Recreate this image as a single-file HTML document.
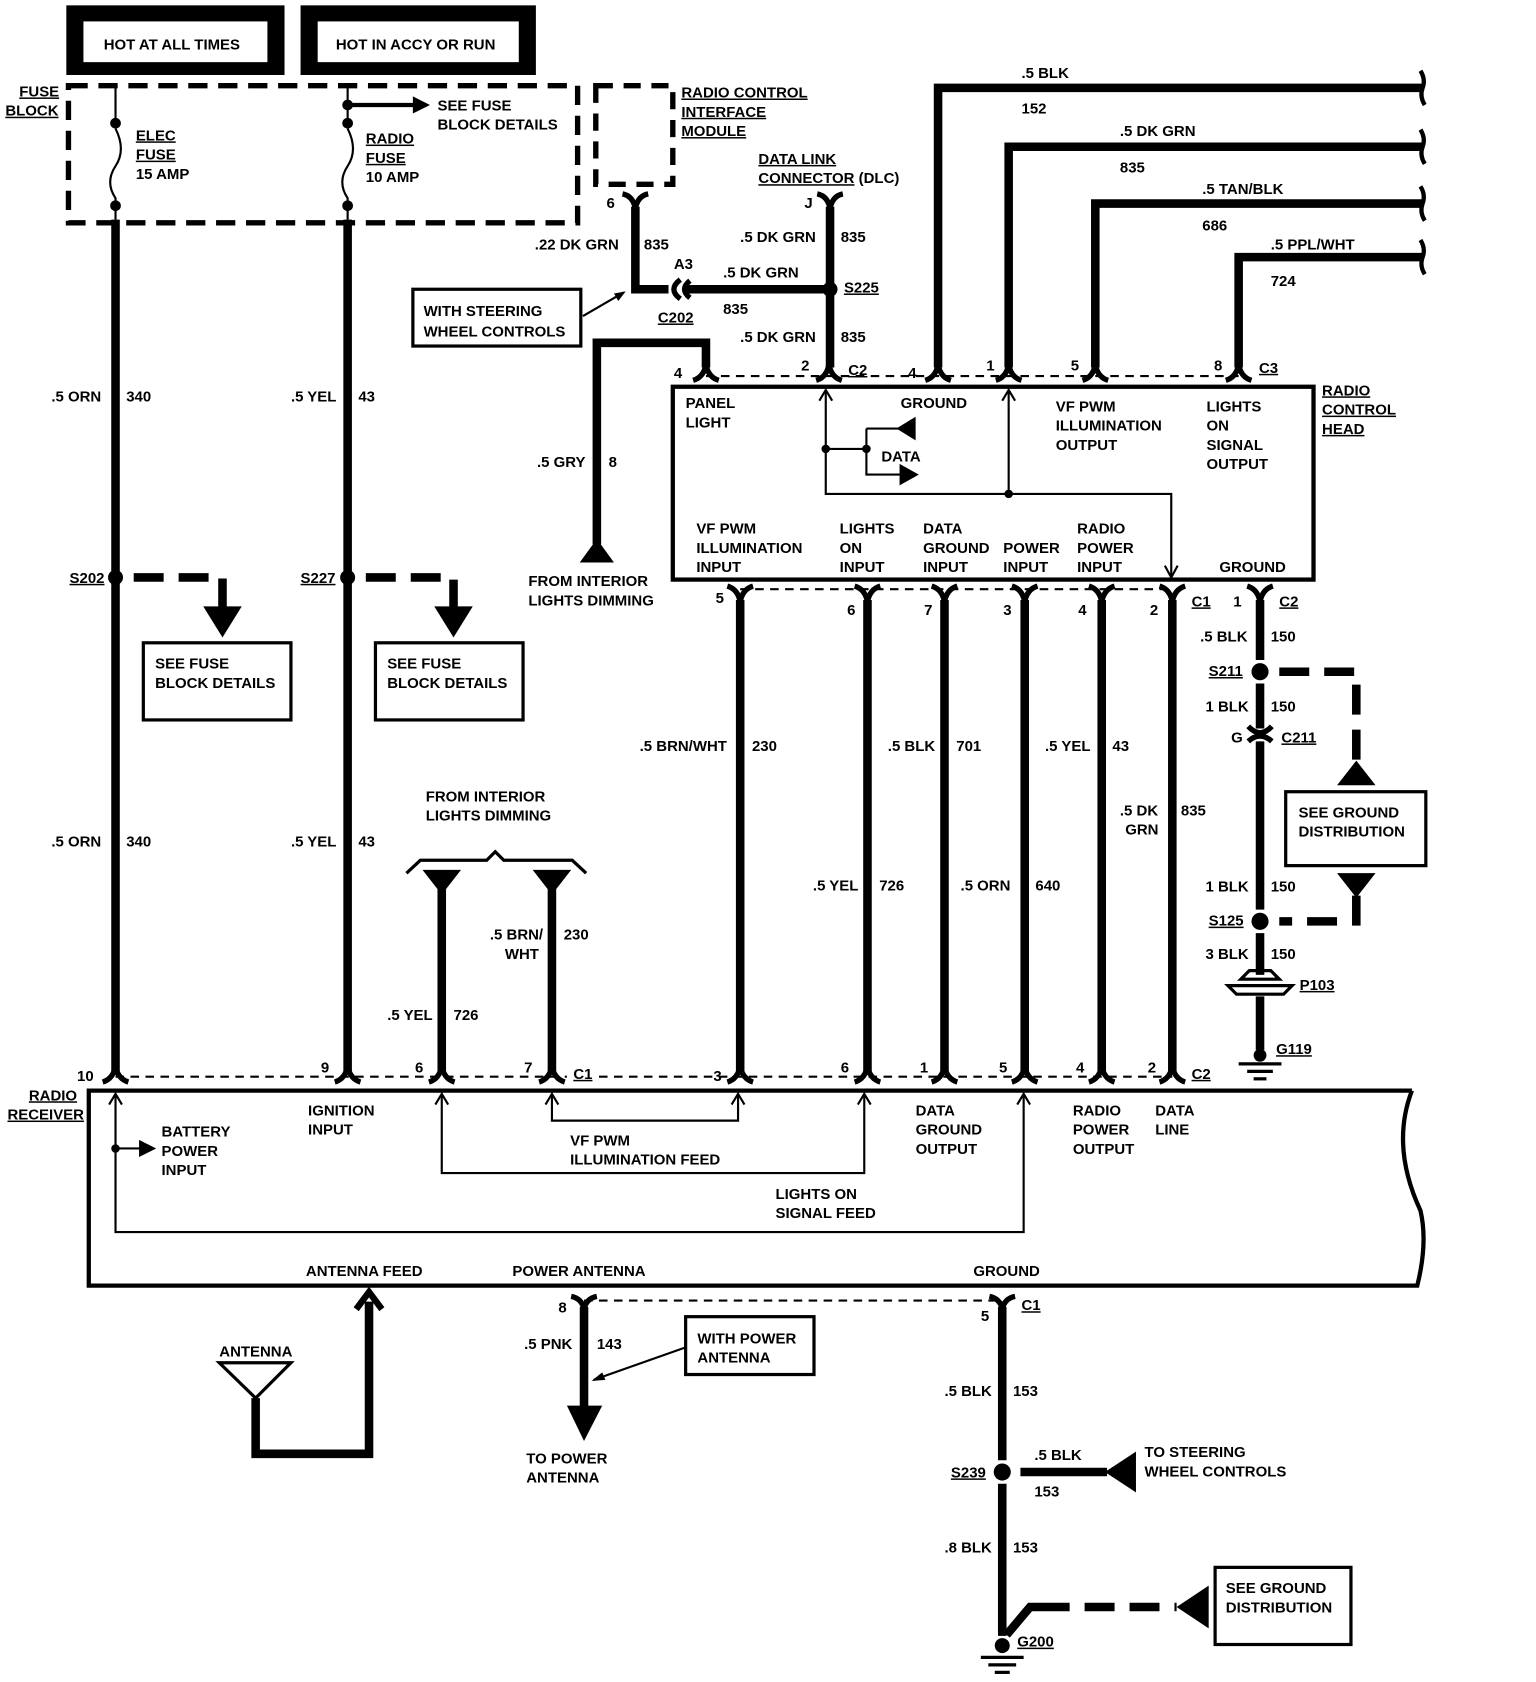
<!DOCTYPE html>
<html><head><meta charset="utf-8"><style>
html,body{margin:0;padding:0;background:#fff;}
svg{display:block;}
text{font-family:"Liberation Sans",sans-serif;font-weight:bold;font-size:14px;fill:#000;}
.w{stroke:#000;stroke-width:8;fill:none;}
.t{stroke:#000;stroke-width:2;fill:none;}
.m{stroke:#000;stroke-width:4;fill:none;}
.d{stroke:#000;stroke-width:2;fill:none;stroke-dasharray:8,6;}
.D{stroke:#000;stroke-width:8;fill:none;stroke-dasharray:28,14;}
.cu{stroke:#000;stroke-width:5;fill:none;}
.u{text-decoration:underline;}
</style></head><body>
<svg width="1536" height="1682" viewBox="0 0 1436 1570" preserveAspectRatio="none" xmlns="http://www.w3.org/2000/svg">
<rect x="62" y="5" width="204" height="65" fill="#000"/>
<rect x="78" y="20" width="172" height="38" fill="#fff"/>
<text x="97" y="46">HOT AT ALL TIMES</text>
<rect x="281" y="5" width="220" height="65" fill="#000"/>
<rect x="297" y="20" width="188" height="38" fill="#fff"/>
<text x="314" y="46">HOT IN ACCY OR RUN</text>
<rect x="64" y="80" width="476" height="128" class="D" style="stroke-width:5;stroke-dasharray:18,10"/>
<text x="18" y="90" class="u">FUSE</text><text x="5" y="108" class="u">BLOCK</text>
<line x1="108" y1="80" x2="108" y2="120" class="t"/>
<path d="M108 120 Q118 140 108 155 Q98 170 108 185 L108 205" class="t"/>
<circle cx="108" cy="115" r="5"/><circle cx="108" cy="192" r="5"/>
<text x="127" y="131" class="u">ELEC</text><text x="127" y="149" class="u">FUSE</text><text x="127" y="167">15 AMP</text>
<line x1="325" y1="80" x2="325" y2="120" class="t"/>
<path d="M325 120 Q335 140 325 155 Q315 170 325 185 L325 205" class="t"/>
<circle cx="325" cy="98" r="5"/><circle cx="325" cy="115" r="5"/><circle cx="325" cy="192" r="5"/>
<line x1="325" y1="98" x2="388" y2="98" class="m"/><path d="M386 90 L402 98 L386 106Z"/>
<text x="409" y="103">SEE FUSE</text><text x="409" y="121">BLOCK DETAILS</text>
<text x="342" y="134" class="u">RADIO</text><text x="342" y="152" class="u">FUSE</text><text x="342" y="170">10 AMP</text>
<line x1="108" y1="205" x2="108" y2="1000" class="w"/>
<line x1="325" y1="205" x2="325" y2="1000" class="w"/>
<text x="48" y="375">.5 ORN</text><text x="118" y="375">340</text>
<text x="272" y="375">.5 YEL</text><text x="335" y="375">43</text>
<text x="48" y="790">.5 ORN</text><text x="118" y="790">340</text>
<text x="272" y="790">.5 YEL</text><text x="335" y="790">43</text>
<circle cx="108" cy="539" r="7"/><text x="65" y="544" class="u">S202</text>
<path d="M125 539 L208 539 L208 568" class="D"/><path d="M190 566 L226 566 L208 595Z"/>
<rect x="134" y="600" width="138" height="72" class="m" style="stroke-width:3"/>
<text x="145" y="624">SEE FUSE</text><text x="145" y="642">BLOCK DETAILS</text>
<circle cx="325" cy="539" r="7"/><text x="281" y="544" class="u">S227</text>
<path d="M342 539 L424 539 L424 568" class="D"/><path d="M406 566 L442 566 L424 595Z"/>
<rect x="351" y="600" width="138" height="72" class="m" style="stroke-width:3"/>
<text x="362" y="624">SEE FUSE</text><text x="362" y="642">BLOCK DETAILS</text>
<rect x="557" y="80" width="72" height="92" class="D" style="stroke-width:5;stroke-dasharray:16,10"/>
<text x="637" y="91" class="u">RADIO CONTROL</text><text x="637" y="109" class="u">INTERFACE</text><text x="637" y="127" class="u">MODULE</text>
<path d="M582 181 Q592 183 594 195 Q596 183 606 181" class="cu"/>
<text x="567" y="194">6</text>
<path d="M594 193 L594 270 L625 270" class="w"/>
<text x="500" y="233">.22 DK GRN</text><text x="602" y="233">835</text>
<text x="630" y="251">A3</text>
<path d="M636 261 Q624 270 636 279" class="cu"/><path d="M645 262 Q635 270 645 278" class="cu"/>
<text x="615" y="301" class="u">C202</text>
<line x1="640" y1="270" x2="776" y2="270" class="w"/>
<text x="676" y="259">.5 DK GRN</text><text x="676" y="293">835</text>
<text x="709" y="153" class="u">DATA LINK</text><text x="709" y="171"><tspan class="u">CONNECTOR</tspan> (DLC)</text>
<text x="752" y="194">J</text>
<path d="M764 181 Q774 183 776 195 Q778 183 788 181" class="cu"/>
<line x1="776" y1="193" x2="776" y2="343" class="w"/>
<circle cx="776" cy="270" r="7"/><text x="789" y="273" class="u">S225</text>
<text x="692" y="226">.5 DK GRN</text><text x="786" y="226">835</text>
<text x="692" y="319">.5 DK GRN</text><text x="786" y="319">835</text>
<rect x="386" y="270" width="157" height="53" class="m" style="stroke-width:3"/>
<text x="396" y="295">WITH STEERING</text><text x="396" y="314">WHEEL CONTROLS</text>
<line x1="545" y1="295" x2="583" y2="273" class="t"/><path d="M585 272 L574 274 L578 281Z"/>
<path d="M660 343 L660 320 L558 320 L558 508" class="w"/>
<path d="M542 525 L574 525 L558 503Z"/>
<text x="502" y="436">.5 GRY</text><text x="569" y="436">8</text>
<text x="494" y="547">FROM INTERIOR</text><text x="494" y="565">LIGHTS DIMMING</text>
<path d="M877 343 L877 82 L1330 82" class="w"/>
<path d="M943 343 L943 137 L1330 137" class="w"/>
<path d="M1024 343 L1024 190 L1330 190" class="w"/>
<path d="M1158 343 L1158 240 L1330 240" class="w"/>
<path d="M1328 66 Q1333 74 1330 82 Q1327 90 1332 98" class="m"/>
<path d="M1328 121 Q1333 129 1330 137 Q1327 145 1332 153" class="m"/>
<path d="M1328 174 Q1333 182 1330 190 Q1327 198 1332 206" class="m"/>
<path d="M1328 224 Q1333 232 1330 240 Q1327 248 1332 256" class="m"/>
<text x="955" y="73">.5 BLK</text><text x="955" y="106">152</text>
<text x="1047" y="127">.5 DK GRN</text><text x="1047" y="161">835</text>
<text x="1124" y="181">.5 TAN/BLK</text><text x="1124" y="215">686</text>
<text x="1188" y="233">.5 PPL/WHT</text><text x="1188" y="267">724</text>
<line x1="660" y1="351" x2="1160" y2="351" class="d"/>
<g class="cu">
<path d="M648 355 Q658 352 660 340 Q662 352 672 355"/>
<path d="M763 355 Q773 352 775 340 Q777 352 787 355"/>
<path d="M865 355 Q875 352 877 340 Q879 352 889 355"/>
<path d="M931 355 Q941 352 943 340 Q945 352 955 355"/>
<path d="M1012 355 Q1022 352 1024 340 Q1026 352 1036 355"/>
<path d="M1146 355 Q1156 352 1158 340 Q1160 352 1170 355"/>
</g>
<text x="630" y="353">4</text><text x="749" y="346">2</text><text x="793" y="350" class="u">C2</text>
<text x="849" y="353">4</text><text x="922" y="346">1</text><text x="1001" y="346">5</text><text x="1135" y="346">8</text><text x="1177" y="348" class="u">C3</text>
<rect x="629" y="361" width="599" height="180" class="m"/>
<text x="1236" y="369" class="u">RADIO</text><text x="1236" y="387" class="u">CONTROL</text><text x="1236" y="405" class="u">HEAD</text>
<text x="641" y="381">PANEL</text><text x="641" y="399">LIGHT</text>
<text x="842" y="381">GROUND</text>
<text x="987" y="384">VF PWM</text><text x="987" y="402">ILLUMINATION</text><text x="987" y="420">OUTPUT</text>
<text x="1128" y="384">LIGHTS</text><text x="1128" y="402">ON</text><text x="1128" y="420">SIGNAL</text><text x="1128" y="438">OUTPUT</text>
<path d="M772 365 L772 461 L1095 461 L1095 538" class="t"/>
<path d="M766 374 L772 364 L778 374" class="t"/>
<line x1="943" y1="365" x2="943" y2="461" class="t"/>
<path d="M937 374 L943 364 L949 374" class="t"/>
<path d="M1089 528 L1095 539 L1101 528" class="t"/>
<circle cx="943" cy="461" r="4"/>
<path d="M772 419 L810 419 M810 400 L840 400 M810 400 L810 443 L843 443" class="t"/>
<circle cx="772" cy="419" r="4"/><circle cx="810" cy="419" r="4"/>
<path d="M838 400 L856 389 L856 411Z"/><path d="M841 433 L859 443 L841 453Z"/>
<text x="824" y="431">DATA</text>
<text x="651" y="498">VF PWM</text><text x="651" y="516">ILLUMINATION</text><text x="651" y="534">INPUT</text>
<text x="785" y="498">LIGHTS</text><text x="785" y="516">ON</text><text x="785" y="534">INPUT</text>
<text x="863" y="498">DATA</text><text x="863" y="516">GROUND</text><text x="863" y="534">INPUT</text>
<text x="938" y="516">POWER</text><text x="938" y="534">INPUT</text>
<text x="1007" y="498">RADIO</text><text x="1007" y="516">POWER</text><text x="1007" y="534">INPUT</text>
<text x="1140" y="534">GROUND</text>
<line x1="692" y1="550" x2="1096" y2="550" class="d"/>
<g class="cu">
<path d="M680 547 Q690 550 692 562 Q694 550 704 547"/>
<path d="M799 547 Q809 550 811 562 Q813 550 823 547"/>
<path d="M871 547 Q881 550 883 562 Q885 550 895 547"/>
<path d="M946 547 Q956 550 958 562 Q960 550 970 547"/>
<path d="M1018 547 Q1028 550 1030 562 Q1032 550 1042 547"/>
<path d="M1084 547 Q1094 550 1096 562 Q1098 550 1108 547"/>
<path d="M1166 547 Q1176 550 1178 562 Q1180 550 1190 547"/>
</g>
<text x="669" y="563">5</text><text x="792" y="574">6</text><text x="864" y="574">7</text><text x="938" y="574">3</text><text x="1008" y="574">4</text><text x="1075" y="574">2</text>
<text x="1114" y="566" class="u">C1</text><text x="1153" y="566">1</text><text x="1196" y="566" class="u">C2</text>
<g class="w">
<line x1="692" y1="560" x2="692" y2="1000"/>
<line x1="811" y1="560" x2="811" y2="1000"/>
<line x1="883" y1="560" x2="883" y2="1000"/>
<line x1="958" y1="560" x2="958" y2="1000"/>
<line x1="1030" y1="560" x2="1030" y2="1000"/>
<line x1="1096" y1="560" x2="1096" y2="1000"/>
</g>
<text x="598" y="701">.5 BRN/WHT</text><text x="703" y="701">230</text>
<text x="760" y="831">.5 YEL</text><text x="822" y="831">726</text>
<text x="830" y="701">.5 BLK</text><text x="894" y="701">701</text>
<text x="898" y="831">.5 ORN</text><text x="968" y="831">640</text>
<text x="977" y="701">.5 YEL</text><text x="1040" y="701">43</text>
<text x="1047" y="761">.5 DK</text><text x="1052" y="779">GRN</text><text x="1104" y="761">835</text>
<line x1="1178" y1="560" x2="1178" y2="616" class="w"/>
<line x1="1178" y1="638" x2="1178" y2="680" class="w"/>
<line x1="1178" y1="692" x2="1178" y2="849" class="w"/>
<line x1="1178" y1="871" x2="1178" y2="910" class="w"/>
<line x1="1178" y1="930" x2="1178" y2="980" class="w"/>
<circle cx="1178" cy="627" r="8"/>
<circle cx="1178" cy="860" r="8"/>
<text x="1122" y="599">.5 BLK</text><text x="1188" y="599">150</text>
<text x="1130" y="631" class="u">S211</text>
<text x="1127" y="664">1 BLK</text><text x="1188" y="664">150</text>
<path d="M1167 678 Q1178 690 1189 678" class="cu"/><path d="M1167 692 Q1178 682 1189 692" class="cu"/>
<text x="1151" y="693">G</text><text x="1198" y="693" class="u">C211</text>
<text x="1127" y="832">1 BLK</text><text x="1188" y="832">150</text>
<text x="1130" y="864" class="u">S125</text>
<text x="1127" y="895">3 BLK</text><text x="1188" y="895">150</text>
<path d="M1160 914 L1168 906 L1188 906 L1196 914Z" class="m" style="stroke-width:3"/>
<path d="M1148 920 L1208 920 L1200 928 L1156 928Z" class="m" style="stroke-width:3"/>
<text x="1215" y="924" class="u">P103</text>
<circle cx="1178" cy="985" r="6"/>
<text x="1193" y="984" class="u">G119</text>
<line x1="1158" y1="993" x2="1198" y2="993" class="m" style="stroke-width:3"/>
<line x1="1166" y1="1000" x2="1190" y2="1000" class="m" style="stroke-width:3"/>
<line x1="1172" y1="1007" x2="1184" y2="1007" class="m" style="stroke-width:3"/>
<path d="M1196 627 L1268 627 L1268 712" class="D"/><path d="M1250 733 L1286 733 L1268 710Z"/>
<rect x="1202" y="739" width="131" height="69" class="m" style="stroke-width:3"/>
<text x="1214" y="763">SEE GROUND</text><text x="1214" y="781">DISTRIBUTION</text>
<path d="M1250 815 L1286 815 L1268 838Z"/><path d="M1268 836 L1268 860 L1196 860" class="D"/>
<text x="398" y="748">FROM INTERIOR</text><text x="398" y="766">LIGHTS DIMMING</text>
<path d="M380 815 L393 803 L455 803 L463 795 L471 803 L535 803 L548 815" class="m" style="stroke-width:3"/>
<path d="M395 812 L431 812 L413 835Z"/><path d="M498 812 L534 812 L516 835Z"/>
<line x1="413" y1="830" x2="413" y2="1000" class="w"/>
<line x1="516" y1="830" x2="516" y2="1000" class="w"/>
<text x="362" y="952">.5 YEL</text><text x="424" y="952">726</text>
<text x="458" y="877">.5 BRN/</text><text x="472" y="895">WHT</text><text x="527" y="877">230</text>
<line x1="108" y1="1005" x2="530" y2="1005" class="d"/>
<line x1="560" y1="1005" x2="1096" y2="1005" class="d"/>
<g class="cu">
<path d="M96 1010 Q106 1007 108 995 Q110 1007 120 1010"/>
<path d="M313 1010 Q323 1007 325 995 Q327 1007 337 1010"/>
<path d="M401 1010 Q411 1007 413 995 Q415 1007 425 1010"/>
<path d="M504 1010 Q514 1007 516 995 Q518 1007 528 1010"/>
<path d="M680 1010 Q690 1007 692 995 Q694 1007 704 1010"/>
<path d="M799 1010 Q809 1007 811 995 Q813 1007 823 1010"/>
<path d="M871 1010 Q881 1007 883 995 Q885 1007 895 1010"/>
<path d="M946 1010 Q956 1007 958 995 Q960 1007 970 1010"/>
<path d="M1018 1010 Q1028 1007 1030 995 Q1032 1007 1042 1010"/>
<path d="M1084 1010 Q1094 1007 1096 995 Q1098 1007 1108 1010"/>
</g>
<text x="72" y="1009">10</text><text x="300" y="1001">9</text><text x="388" y="1001">6</text><text x="490" y="1001">7</text><text x="536" y="1007" class="u">C1</text>
<text x="667" y="1009">3</text><text x="786" y="1001">6</text><text x="860" y="1001">1</text><text x="934" y="1001">5</text><text x="1006" y="1001">4</text><text x="1073" y="1001">2</text><text x="1114" y="1007" class="u">C2</text>
<path d="M1320 1018 L83 1018 L83 1200 L1325 1200 Q1335 1160 1328 1130 Q1300 1070 1320 1018" class="m"/>
<text x="27" y="1027" class="u">RADIO</text><text x="7" y="1045" class="u">RECEIVER</text>
<path d="M108 1022 L108 1150 L957 1150 L957 1022" class="t"/>
<path d="M102 1031 L108 1021 L114 1031 M951 1031 L957 1021 L963 1031" class="t"/>
<circle cx="108" cy="1072" r="4"/><line x1="108" y1="1072" x2="132" y2="1072" class="t"/><path d="M130 1064 L146 1072 L130 1080Z"/>
<text x="151" y="1061">BATTERY</text><text x="151" y="1079">POWER</text><text x="151" y="1097">INPUT</text>
<text x="288" y="1041">IGNITION</text><text x="288" y="1059">INPUT</text>
<path d="M413 1022 L413 1095 L808 1095 L808 1022" class="t"/>
<path d="M407 1031 L413 1021 L419 1031 M802 1031 L808 1021 L814 1031" class="t"/>
<path d="M516 1022 L516 1046 L690 1046 L690 1022" class="t"/>
<path d="M510 1031 L516 1021 L522 1031 M684 1031 L690 1021 L696 1031" class="t"/>
<text x="533" y="1069">VF PWM</text><text x="533" y="1087">ILLUMINATION FEED</text>
<text x="725" y="1119">LIGHTS ON</text><text x="725" y="1137">SIGNAL FEED</text>
<text x="856" y="1041">DATA</text><text x="856" y="1059">GROUND</text><text x="856" y="1077">OUTPUT</text>
<text x="1003" y="1041">RADIO</text><text x="1003" y="1059">POWER</text><text x="1003" y="1077">OUTPUT</text>
<text x="1080" y="1041">DATA</text><text x="1080" y="1059">LINE</text>
<text x="286" y="1191">ANTENNA FEED</text><text x="479" y="1191">POWER ANTENNA</text><text x="910" y="1191">GROUND</text>
<path d="M345 1215 L345 1357 L239 1357 L239 1305" class="w"/>
<path d="M333 1222 L345 1206 L357 1222" class="w" style="stroke-width:6"/>
<path d="M205 1272 L272 1272 L239 1305Z" class="m" style="stroke-width:3"/>
<text x="205" y="1266">ANTENNA</text>
<line x1="546" y1="1214" x2="937" y2="1214" class="d"/>
<path d="M534 1210 Q544 1212 546 1222 Q548 1212 558 1210" class="cu"/>
<text x="522" y="1225">8</text>
<line x1="546" y1="1220" x2="546" y2="1315" class="w"/>
<path d="M530 1312 L563 1312 L546 1345Z"/>
<text x="490" y="1259">.5 PNK</text><text x="558" y="1259">143</text>
<rect x="641" y="1229" width="120" height="54" class="m" style="stroke-width:3"/>
<text x="652" y="1254">WITH POWER</text><text x="652" y="1272">ANTENNA</text>
<line x1="640" y1="1258" x2="555" y2="1288" class="t"/><path d="M553 1289 L563 1281 L566 1288Z"/>
<text x="492" y="1366">TO POWER</text><text x="492" y="1384">ANTENNA</text>
<path d="M925 1210 Q935 1212 937 1222 Q939 1212 949 1210" class="cu"/>
<text x="917" y="1233">5</text><text x="955" y="1223" class="u">C1</text>
<line x1="937" y1="1220" x2="937" y2="1363" class="w"/>
<line x1="937" y1="1385" x2="937" y2="1527" class="w"/>
<circle cx="937" cy="1374" r="8"/>
<text x="883" y="1303">.5 BLK</text><text x="947" y="1303">153</text>
<text x="889" y="1379" class="u">S239</text>
<line x1="954" y1="1374" x2="1035" y2="1374" class="w"/>
<path d="M1033 1374 L1062 1355 L1062 1393Z"/>
<text x="967" y="1363">.5 BLK</text><text x="967" y="1397">153</text>
<text x="1070" y="1360">TO STEERING</text><text x="1070" y="1378">WHEEL CONTROLS</text>
<text x="883" y="1449">.8 BLK</text><text x="947" y="1449">153</text>
<path d="M941 1526 L963 1500 L1000 1500" class="w"/>
<path d="M1014 1500 L1100 1500" class="D"/>
<path d="M1100 1500 L1130 1480 L1130 1520Z"/>
<rect x="1136" y="1463" width="127" height="72" class="m" style="stroke-width:3"/>
<text x="1146" y="1487">SEE GROUND</text><text x="1146" y="1505">DISTRIBUTION</text>
<circle cx="937" cy="1536" r="7"/>
<text x="951" y="1537" class="u">G200</text>
<line x1="917" y1="1547" x2="957" y2="1547" class="m" style="stroke-width:3"/>
<line x1="924" y1="1554" x2="950" y2="1554" class="m" style="stroke-width:3"/>
<line x1="930" y1="1561" x2="944" y2="1561" class="m" style="stroke-width:3"/>
</svg>
</body></html>
